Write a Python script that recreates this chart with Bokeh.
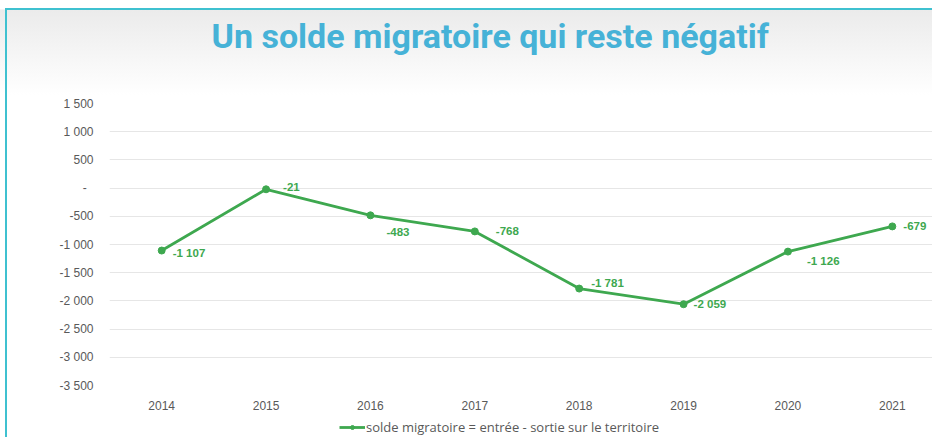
from bokeh.plotting import figure
from bokeh.layouts import column
from bokeh.models import (ColumnDataSource, LabelSet, FixedTicker, CustomJSTickFormatter,
                          Legend, LegendItem, Range1d)
from bokeh.core.properties import value
from bokeh.embed import file_html
from bokeh.resources import INLINE

years = [2014, 2015, 2016, 2017, 2018, 2019, 2020, 2021]
solde = [-1107, -21, -483, -768, -1781, -2059, -1126, -679]
y_ticks = [1500, 1000, 500, 0, -500, -1000, -1500, -2000, -2500, -3000, -3500]
title_text = "Un solde migratoire qui reste négatif"
series_name = "solde migratoire = entrée - sortie sur le territoire"

# label placement (style only)
lab_dx = [11, 17, 16, 21, 12, 10, 19, 11]
lab_dy = [-2, 2, -17, 0, 6, 0, -9, 0]

GREEN = "#3ea84f"
GREY = "#595959"

labels = [("-" if v < 0 else "") + f"{abs(v):,}".replace(",", " ") for v in solde]
src = ColumnDataSource(dict(x=years, y=solde, lab=labels, dx=lab_dx, dy=lab_dy))


def bare(fig):
    fig.border_fill_color = None
    fig.background_fill_color = None
    fig.outline_line_color = None


# title strip
t = figure(width=932, height=80, output_backend="svg", toolbar_location=None,
           x_range=Range1d(0, 1), y_range=Range1d(0, 1),
           min_border=0, x_axis_type=None, y_axis_type=None)
bare(t)
t.grid.visible = False
t.title.text = title_text
t.title.text_font = "Roboto"
t.title.text_font_style = "bold"
t.title.text_font_size = "34px"
t.title.text_color = "#46b2d7"
t.title.align = "left"
t.title.offset = 102
t.title.vertical_align = "top"
t.title.standoff = 31

# main chart
p = figure(width=932, height=335, output_backend="svg", toolbar_location=None,
           x_range=Range1d(2013.5, 2021.385), y_range=Range1d(-3500, 1500),
           min_border_left=109, min_border_right=0, min_border_top=23, min_border_bottom=30)
bare(p)

p.xgrid.grid_line_color = None
p.ygrid.grid_line_color = "#e6e6e6"
p.ygrid.grid_line_width = 1

p.xaxis.ticker = FixedTicker(ticks=years)
p.yaxis.ticker = FixedTicker(ticks=y_ticks)
p.yaxis.formatter = CustomJSTickFormatter(code="""
if (tick == 0) { return "-\\u00a0\\u00a0"; }
var s = Math.abs(tick).toString().replace(/\\B(?=(\\d{3})+(?!\\d))/g, " ");
return (tick < 0 ? "-" : "") + s;
""")
for ax in (p.xaxis, p.yaxis):
    ax.axis_line_color = None
    ax.major_tick_line_color = None
    ax.minor_tick_line_color = None
    ax.major_label_text_color = GREY
    ax.major_label_text_font = "Liberation Sans"
    ax.major_label_text_font_size = "12px"
p.yaxis.major_label_standoff = 10
p.xaxis.major_label_standoff = 9

r_line = p.line("x", "y", source=src, line_color=GREEN, line_width=2.8)
r_pts = p.scatter("x", "y", source=src, size=7, fill_color=GREEN, line_color=GREEN)

ls = LabelSet(x="x", y="y", text="lab", source=src, x_offset="dx", y_offset="dy",
              text_align="left", text_baseline="middle", text_color=GREEN,
              text_font=value("Liberation Sans"), text_font_style="bold",
              text_font_size="11.5px")
p.add_layout(ls)

# legend strip (its own small figure, series drawn outside its visible range)
q = figure(width=932, height=22, output_backend="svg", toolbar_location=None,
           x_range=Range1d(0, 1), y_range=Range1d(10000, 10001),
           min_border=0, x_axis_type=None, y_axis_type=None)
bare(q)
q.grid.visible = False
lq = q.line("x", "y", source=src, line_color=GREEN, line_width=2.8)
sq = q.scatter("x", "y", source=src, size=7, fill_color=GREEN, line_color=GREEN)
legend = Legend(items=[LegendItem(label=series_name, renderers=[lq, sq])],
                orientation="horizontal", location=(230, 1),
                border_line_color=None, background_fill_alpha=0,
                label_text_font="Open Sans", label_text_font_size="13px",
                label_text_color=GREY, glyph_width=26, glyph_height=10,
                padding=0, margin=0, label_standoff=1)
q.add_layout(legend)

layout = column(t, p, q, spacing=0)
layout.styles = {
    "background": (
        "linear-gradient(#3fc1d0,#3fc1d0) 5px 8px / 2px calc(100% - 8px) no-repeat, "
        "linear-gradient(#3fc1d0,#3fc1d0) 5px 8px / calc(100% - 5px) 2px no-repeat, "
        "linear-gradient(to bottom, #ffffff 0px, #ffffff 9px, #ebebeb 10px, #ffffff 95px) 0 0 / 100% 100% no-repeat"
    )
}

open("out.html", "w").write(file_html(layout, INLINE))
